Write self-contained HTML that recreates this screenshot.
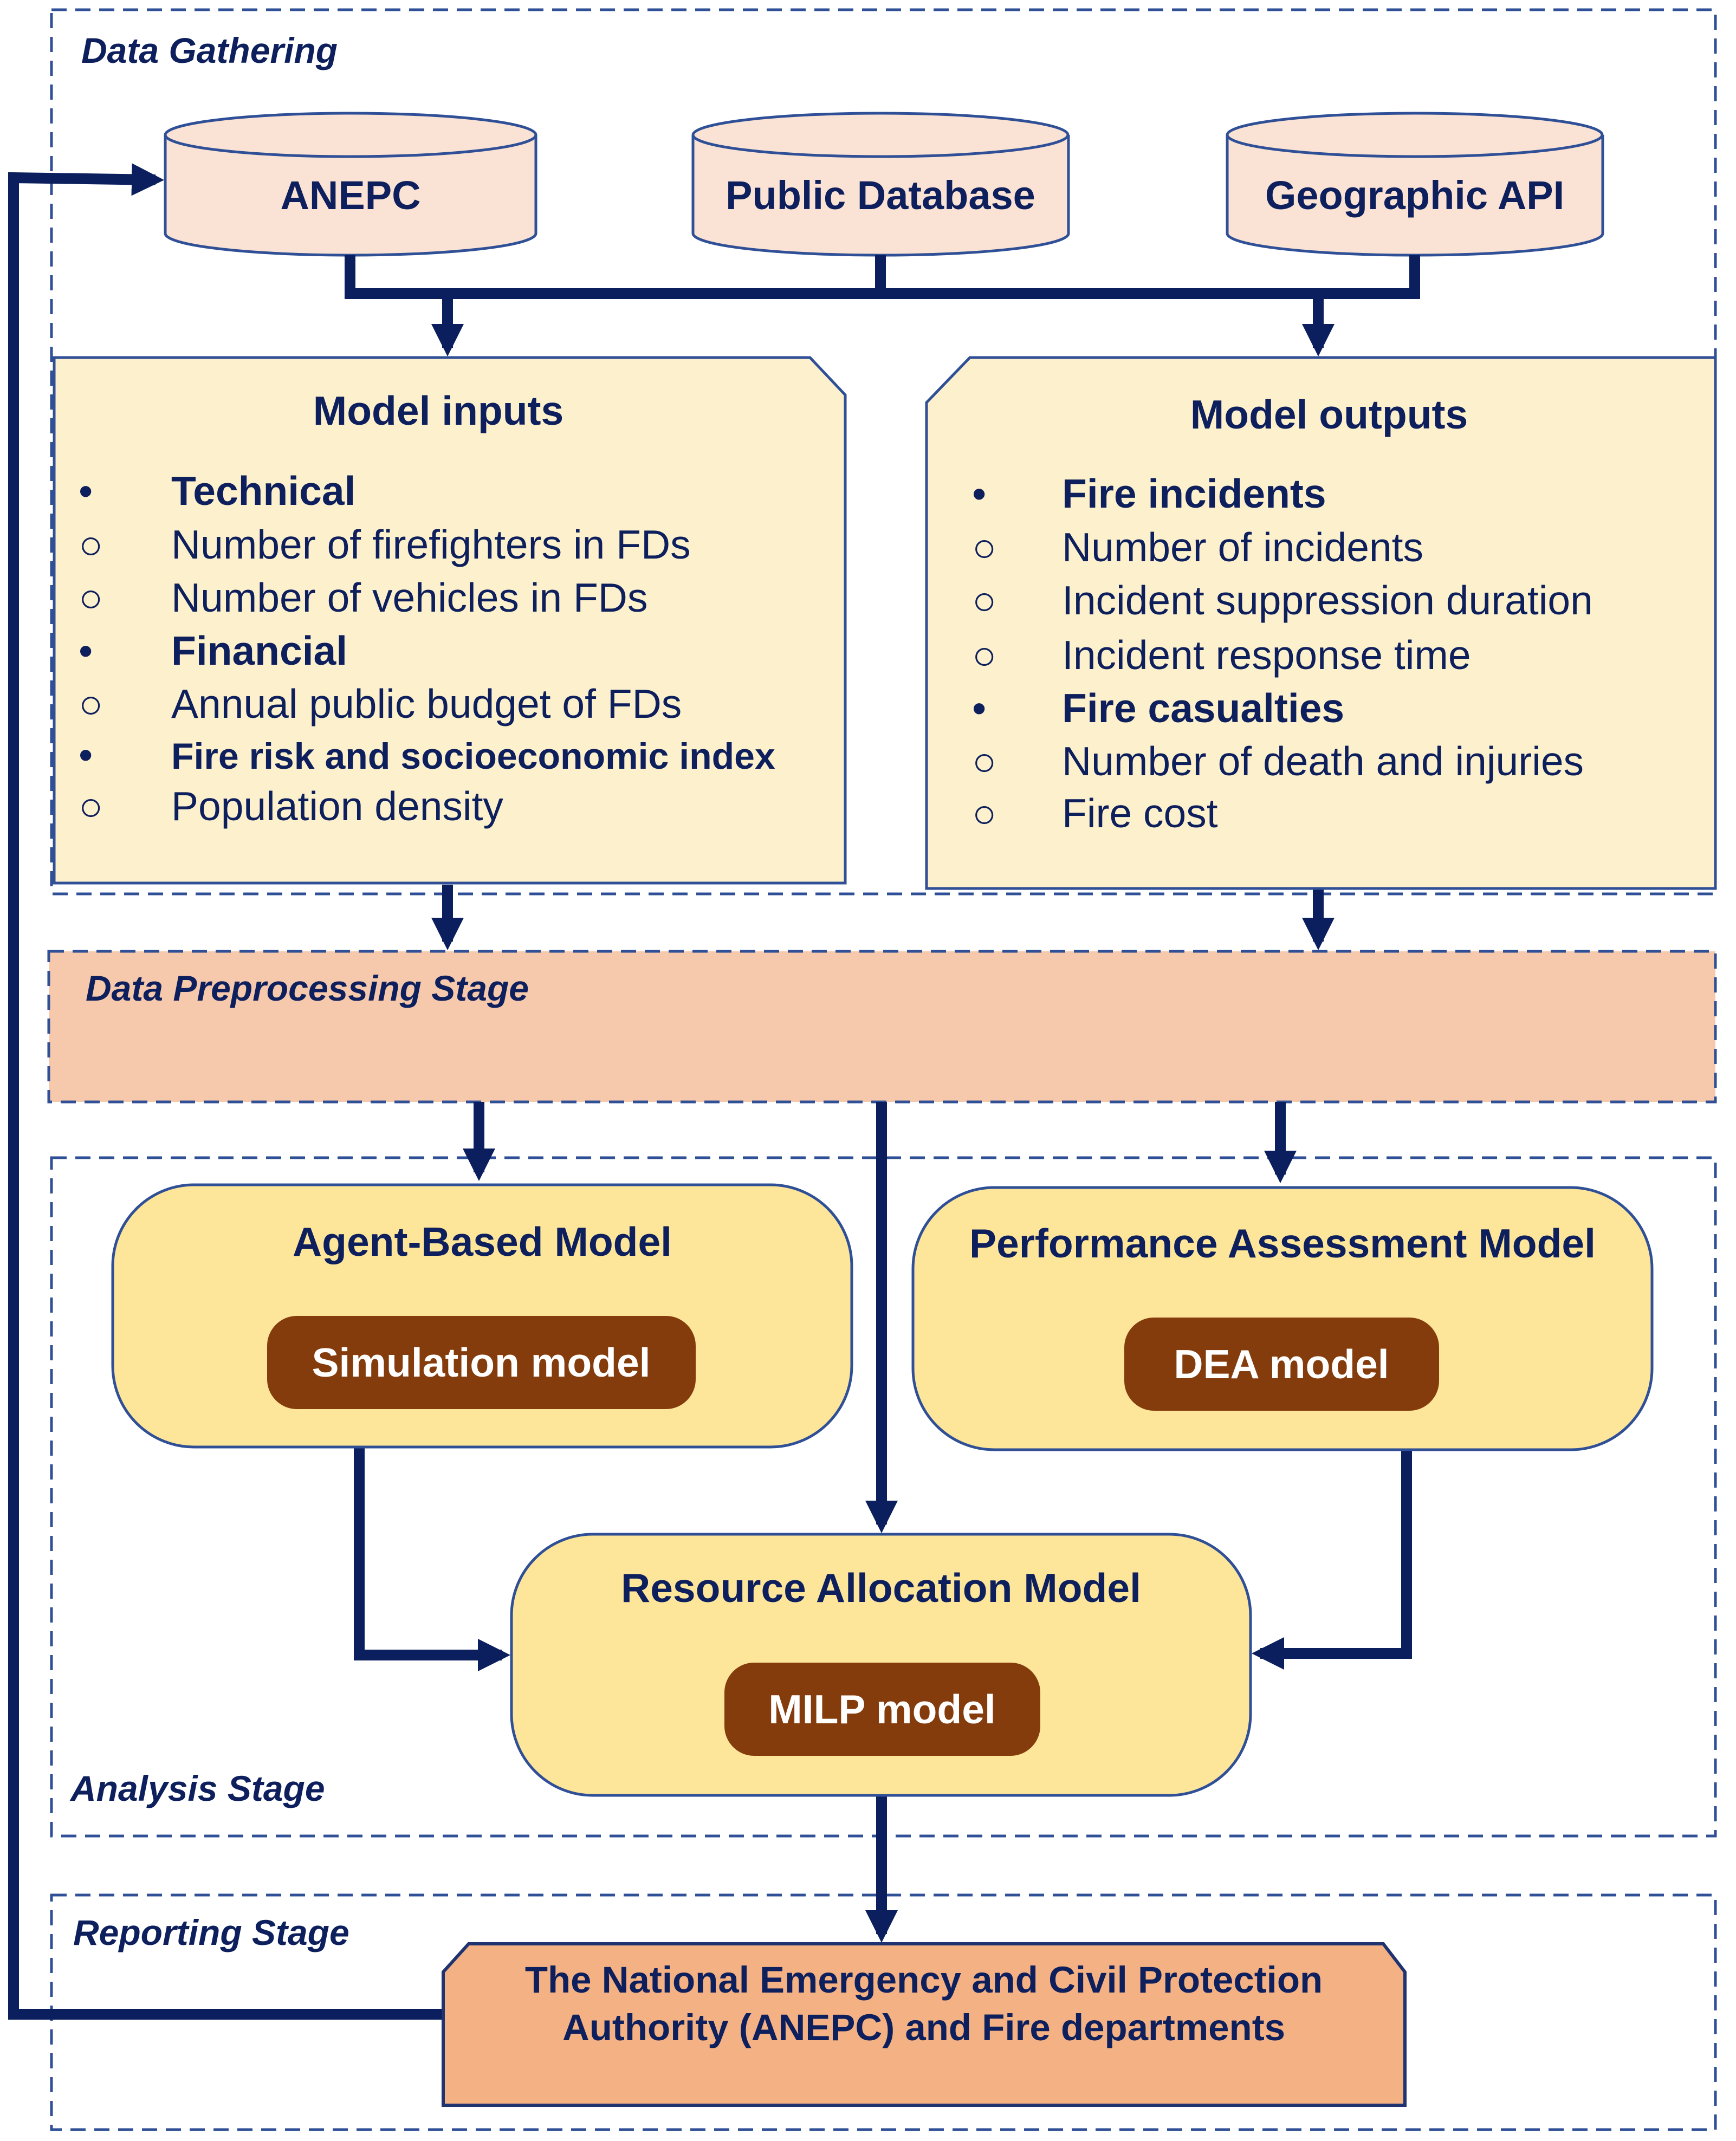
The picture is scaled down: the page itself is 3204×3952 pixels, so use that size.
<!DOCTYPE html>
<html><head><meta charset="utf-8"><style>
html,body{margin:0;padding:0;background:#fff}
svg{display:block}
text{font-family:"Liberation Sans",Arial,sans-serif;fill:#0d1f5c}
.b{font-weight:bold}
.lab{font-weight:bold;font-style:italic;font-size:66px}
</style></head><body>
<svg width="3204" height="3952" viewBox="0 0 3204 3952" xmlns="http://www.w3.org/2000/svg">
<defs>
<marker id="ah" markerWidth="3" markerHeight="3" refX="2.2" refY="1.5" orient="auto" markerUnits="strokeWidth">
<path d="M0,0 L3,1.5 L0,3 z" fill="#0b1f5e"/></marker>
</defs>
<g fill="none" stroke="#2f4f96" stroke-width="5" stroke-dasharray="28,16">
<rect x="95" y="18" width="3071" height="1632"/>
<rect x="95" y="2137" width="3071" height="1252"/>
<rect x="95" y="3498" width="3071" height="433"/>
</g>
<rect x="90" y="1756" width="3076" height="278" fill="#f6c9ad" stroke="#2f4f96" stroke-width="5" stroke-dasharray="28,16"/>
<text x="150" y="116" class="lab">Data Gathering</text>
<text x="158" y="1847" class="lab">Data Preprocessing Stage</text>
<text x="130" y="3324" class="lab">Analysis Stage</text>
<text x="135" y="3590" class="lab">Reporting Stage</text>

<g stroke="#2f4f96" stroke-width="5" fill="#fae3d4">
<path d="M305,249 L305,431 A342,40 0 0 0 989,431 L989,249"/>
<ellipse cx="647" cy="249" rx="342" ry="40"/>
<path d="M1279,249 L1279,431 A346,40 0 0 0 1972,431 L1972,249"/>
<ellipse cx="1625" cy="249" rx="346" ry="40"/>
<path d="M2265,249 L2265,431 A346,40 0 0 0 2958,431 L2958,249"/>
<ellipse cx="2611" cy="249" rx="346" ry="40"/>
</g>
<text x="647" y="386" font-size="74" class="b" text-anchor="middle">ANEPC</text>
<text x="1625" y="386" font-size="74" class="b" text-anchor="middle">Public Database</text>
<text x="2611" y="386" font-size="74" class="b" text-anchor="middle">Geographic API</text>

<g stroke="#0b1f5e" stroke-width="20" fill="none">
<path d="M646,471 L646,542 L2611,542 L2611,471"/>
<path d="M1625,471 L1625,542"/>
<path d="M826,542 L826,642" marker-end="url(#ah)"/>
<path d="M2433,542 L2433,642" marker-end="url(#ah)"/>
<path d="M826,1633 L826,1738" marker-end="url(#ah)"/>
<path d="M2433,1640 L2433,1738" marker-end="url(#ah)"/>
<path d="M884,2034 L884,2164" marker-end="url(#ah)"/>
<path d="M2363,2034 L2363,2168" marker-end="url(#ah)"/>
<path d="M1627,2034 L1627,2814" marker-end="url(#ah)"/>
<path d="M663,2671 L663,3055 L926,3055" marker-end="url(#ah)"/>
<path d="M2596,2676 L2596,3052 L2326,3052" marker-end="url(#ah)"/>
<path d="M1627,3314 L1627,3570" marker-end="url(#ah)"/>
<path d="M818,3718 L25,3718 L25,328 L287,332" marker-end="url(#ah)"/>
</g>

<path d="M100,660 L1495,660 L1560,729 L1560,1630 L100,1630 Z" fill="#fdf0cc" stroke="#2f4f96" stroke-width="5"/>
<text x="809" y="784" font-size="75" class="b" text-anchor="middle">Model inputs</text>
<g font-size="75">
<text x="145" y="932">•</text><text x="316" y="932" class="b">Technical</text>
<text x="145" y="1031">○</text><text x="316" y="1031">Number of firefighters in FDs</text>
<text x="145" y="1129">○</text><text x="316" y="1129">Number of vehicles in FDs</text>
<text x="145" y="1227">•</text><text x="316" y="1227" class="b">Financial</text>
<text x="145" y="1325">○</text><text x="316" y="1325">Annual public budget of FDs</text>
<text x="145" y="1419">•</text><text x="316" y="1419" class="b" font-size="68">Fire risk and socioeconomic index</text>
<text x="145" y="1514">○</text><text x="316" y="1514">Population density</text>
</g>

<path d="M1790,660 L3166,660 L3166,1640 L1710,1640 L1710,743 Z" fill="#fdf0cc" stroke="#2f4f96" stroke-width="5"/>
<text x="2453" y="791" font-size="75" class="b" text-anchor="middle">Model outputs</text>
<g font-size="75">
<text x="1794" y="937">•</text><text x="1960" y="937" class="b">Fire incidents</text>
<text x="1794" y="1036">○</text><text x="1960" y="1036">Number of incidents</text>
<text x="1794" y="1134">○</text><text x="1960" y="1134">Incident suppression duration</text>
<text x="1794" y="1235">○</text><text x="1960" y="1235">Incident response time</text>
<text x="1794" y="1333">•</text><text x="1960" y="1333" class="b">Fire casualties</text>
<text x="1794" y="1431">○</text><text x="1960" y="1431">Number of death and injuries</text>
<text x="1794" y="1527">○</text><text x="1960" y="1527">Fire cost</text>
</g>

<g stroke="#2f4f96" stroke-width="5" fill="#fde59a">
<rect x="208" y="2187" width="1364" height="484" rx="150"/>
<rect x="1685" y="2192" width="1364" height="484" rx="150"/>
<rect x="944" y="2832" width="1364" height="482" rx="150"/>
</g>
<g fill="#843c0c">
<rect x="493" y="2429" width="791" height="172" rx="55"/>
<rect x="2075" y="2432" width="581" height="172" rx="55"/>
<rect x="1337" y="3069" width="583" height="172" rx="55"/>
</g>
<g font-size="75" class="b" text-anchor="middle">
<text x="890" y="2318">Agent-Based Model</text>
<text x="2367" y="2321">Performance Assessment Model</text>
<text x="1626" y="2957">Resource Allocation Model</text>
<text x="888" y="2541" style="fill:#fff">Simulation model</text>
<text x="2365" y="2544" style="fill:#fff">DEA model</text>
<text x="1628" y="3181" style="fill:#fff">MILP model</text>
</g>

<path d="M865,3588 L2553,3588 L2593,3640 L2593,3886 L818,3886 L818,3640 Z" fill="#f4b183" stroke="#1f3370" stroke-width="6"/>
<text x="1705" y="3678" font-size="69" class="b" text-anchor="middle">The National Emergency and Civil Protection</text>
<text x="1705" y="3766" font-size="69" class="b" text-anchor="middle">Authority (ANEPC) and Fire departments</text>
</svg>
</body></html>
